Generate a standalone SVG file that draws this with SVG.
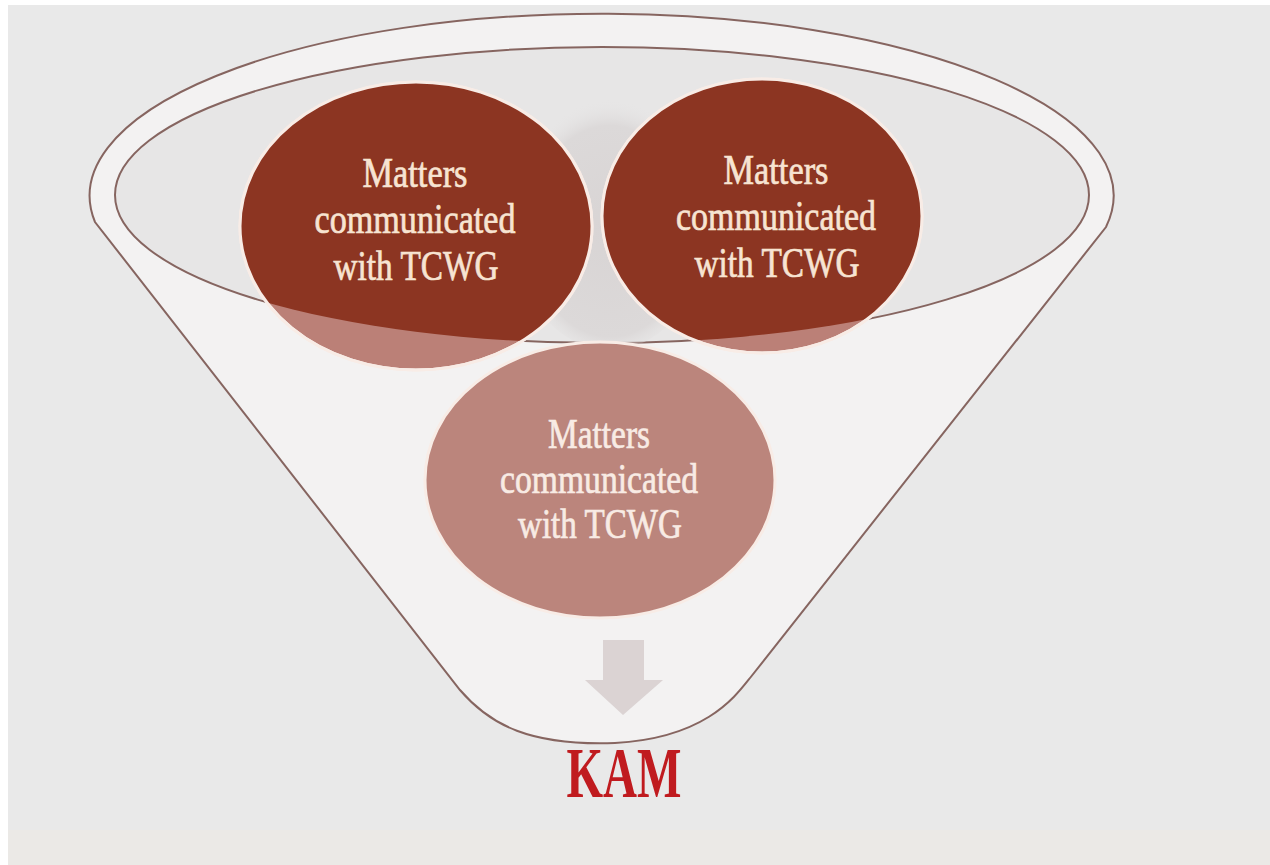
<svg xmlns="http://www.w3.org/2000/svg" width="1270" height="865" viewBox="0 0 1270 865">
<style>
.funnel{fill:#f3f2f2;stroke:#866560;stroke-width:2}
.rim{fill:#e7e6e6;stroke:#866560;stroke-width:2}
.dark{fill:#8c3522}
.light{fill:#bb8077;stroke:#f8ece6;stroke-width:3}
.bot{fill:#bb857c;stroke:#f8ece6;stroke-width:3}
.edge{fill:none;stroke:#f8ece6;stroke-width:3}
.lbl{font-family:"Liberation Serif","Times New Roman",serif;font-size:42px;text-anchor:middle;fill:#f7e4d2;stroke:#f7e4d2;stroke-width:0.7}
.lbl2{font-family:"Liberation Serif","Times New Roman",serif;font-size:42px;text-anchor:middle;fill:#f8ebe4;stroke:#f8ebe4;stroke-width:0.7}
.kam{font-family:"Liberation Serif","Times New Roman",serif;font-size:71px;font-weight:bold;text-anchor:middle;fill:#c01b1f}
</style>
<defs>
<clipPath id="inner"><ellipse cx="602" cy="195" rx="487" ry="148"/></clipPath>
<radialGradient id="shade" cx="0.5" cy="0.55" r="0.5">
<stop offset="0" stop-color="#d8d4d4"/>
<stop offset="0.8" stop-color="#dcd9d9"/>
<stop offset="1" stop-color="#e7e6e6" stop-opacity="0"/>
</radialGradient>
</defs>
<rect width="1270" height="865" fill="#ffffff"/>
<rect x="8" y="5" width="1262" height="860" fill="#e9e9e9"/>
<rect x="8" y="830" width="1262" height="35" fill="#ebe9e6"/>

<g id="funnel">
<path class="funnel" d="M95,222 A512,182 0 1 1 1106,227 L750,678 C735,697 705,738 615,743 C530,746 490,725 460,690 Z"/>
<ellipse class="rim" cx="602" cy="195" rx="487" ry="148"/>
<ellipse cx="610" cy="218" rx="100" ry="132" fill="url(#shade)" clip-path="url(#inner)"/>
</g>

<g id="node-left">
<ellipse class="light" cx="416" cy="226" rx="176" ry="144"/>
<ellipse class="dark" cx="416" cy="226" rx="176" ry="144" clip-path="url(#inner)"/>
<ellipse class="edge" cx="416" cy="226" rx="176" ry="144"/>
<text class="lbl" x="415" y="187" textLength="105" lengthAdjust="spacingAndGlyphs">Matters</text>
<text class="lbl" x="415" y="233" textLength="201" lengthAdjust="spacingAndGlyphs">communicated</text>
<text class="lbl" x="416" y="280" textLength="165" lengthAdjust="spacingAndGlyphs">with TCWG</text>
</g>

<g id="node-right">
<ellipse class="light" cx="762" cy="216" rx="160" ry="137"/>
<ellipse class="dark" cx="762" cy="216" rx="160" ry="137" clip-path="url(#inner)"/>
<ellipse class="edge" cx="762" cy="216" rx="160" ry="137"/>
<text class="lbl" x="776" y="184" textLength="105" lengthAdjust="spacingAndGlyphs">Matters</text>
<text class="lbl" x="776" y="230" textLength="200" lengthAdjust="spacingAndGlyphs">communicated</text>
<text class="lbl" x="777" y="277" textLength="165" lengthAdjust="spacingAndGlyphs">with TCWG</text>
</g>

<g id="node-bottom">
<ellipse class="bot" cx="600" cy="480" rx="175" ry="138"/>
<text class="lbl2" x="599" y="448" textLength="102" lengthAdjust="spacingAndGlyphs">Matters</text>
<text class="lbl2" x="599" y="493" textLength="198" lengthAdjust="spacingAndGlyphs">communicated</text>
<text class="lbl2" x="600" y="538" textLength="164" lengthAdjust="spacingAndGlyphs">with TCWG</text>
</g>

<g id="connectors">
<path d="M603,640 H644 V680 H663 L623,715 L585,680 H603 Z" fill="#dbd3d3"/>
</g>

<g id="node-kam">
<text class="kam" x="624" y="797" textLength="115" lengthAdjust="spacingAndGlyphs">KAM</text>
</g>
</svg>
